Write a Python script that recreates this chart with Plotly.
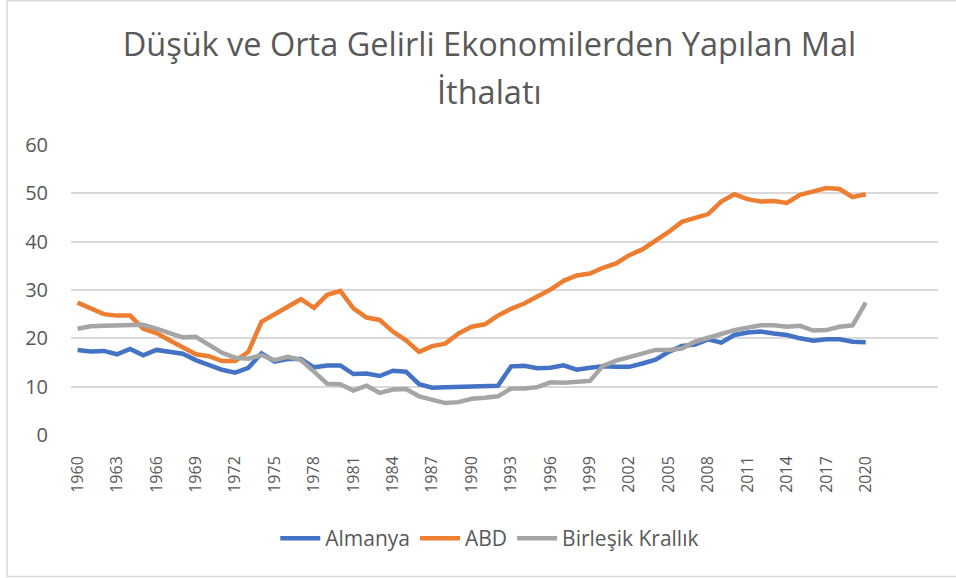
import plotly.graph_objects as go

years = list(range(1960, 2021))

almanya = [17.6, 17.3, 17.4, 16.7, 17.8, 16.5, 17.6, 17.2, 16.8, 15.5,
           14.4, 13.5, 12.9, 13.9, 16.9, 15.2, 15.7, 15.7, 14.0, 14.4,
           14.4, 12.6, 12.7, 12.2, 13.3, 13.1, 10.5, 9.8, 9.9, 10.0,
           10.1, 10.2, 10.2, 14.2, 14.3, 13.8, 13.9, 14.4, 13.5, 13.9,
           14.2, 14.1, 14.1, 14.8, 15.6, 17.2, 18.4, 18.7, 19.8, 19.1,
           20.7, 21.2, 21.4, 21.0, 20.7, 20.0, 19.5, 19.8, 19.8, 19.3,
           19.2]

abd = [27.4, 26.3, 25.0, 24.7, 24.7, 22.0, 21.1, 19.6, 18.1, 16.7,
       16.3, 15.3, 15.3, 17.2, 23.4, 25.0, 26.4, 28.1, 26.3, 29.0,
       29.8, 26.2, 24.3, 23.8, 21.4, 19.6, 17.2, 18.4, 18.9, 21.0,
       22.4, 22.9, 24.7, 26.1, 27.2, 28.6, 30.1, 31.9, 33.0, 33.4,
       34.6, 35.5, 37.2, 38.4, 40.1, 42.0, 44.1, 44.8, 45.7, 48.3,
       49.8, 48.8, 48.3, 48.4, 48.0, 49.7, 50.4, 51.1, 50.9, 49.2,
       49.8]

birlesik = [22.0, 22.5, 22.6, 22.7, 22.7, 22.8, 22.0, 21.2, 20.2, 20.3,
            18.6, 17.0, 16.0, 15.8, 16.5, 15.5, 16.2, 15.5, 13.1, 10.6,
            10.5, 9.2, 10.2, 8.7, 9.4, 9.5, 8.0, 7.2, 6.6, 6.8,
            7.5, 7.7, 8.0, 9.6, 9.6, 9.9, 10.9, 10.8, 11.0, 11.2,
            14.3, 15.4, 16.1, 16.9, 17.6, 17.6, 17.9, 19.3, 20.2, 20.9,
            21.7, 22.1, 22.7, 22.7, 22.4, 22.6, 21.6, 21.7, 22.4, 22.7,
            27.4]

series_names = ["Almanya", "ABD", "Birleşik Krallık"]
series_colors = ["#4472C4", "#ED7D31", "#A5A5A5"]

tick_years = list(range(1960, 2021, 3))
tick_labels = [str(y) for y in tick_years]
y_ticks = [0, 10, 20, 30, 40, 50, 60]

title_line1 = "Düşük ve Orta Gelirli Ekonomilerden Yapılan Mal"
title_line2 = "İthalatı"

FONT = "Open Sans"
TXT = "#595959"

fig = go.Figure()
for name, vals, col in zip(series_names, [almanya, abd, birlesik], series_colors):
    fig.add_trace(go.Scatter(x=years, y=vals, name=name, mode="lines",
                             line=dict(color=col, width=4.5)))

fig.update_layout(
    width=956, height=578,
    margin=dict(l=71, r=18, t=145, b=143),
    paper_bgcolor="white", plot_bgcolor="white",
    font=dict(family=FONT, color=TXT),
    title=dict(text=title_line1, x=0.512, xanchor="center",
               y=1 - 33 / 578, yanchor="top", yref="container",
               font=dict(size=32.5, color=TXT, family=FONT)),
    annotations=[dict(text=title_line2, xref="paper", yref="paper",
                      x=(489.5 - 71) / 867, y=(434.7 - 92) / 289.7,
                      xanchor="center", yanchor="middle", showarrow=False,
                      font=dict(size=32.5, color=TXT, family=FONT))],
    showlegend=True,
    legend=dict(orientation="h", x=0.483, xanchor="center", y=-0.357,
                yanchor="middle", font=dict(size=21, color=TXT),
                bgcolor="rgba(0,0,0,0)", itemwidth=40),
    xaxis=dict(range=[1959.5, 2025.5], tickmode="array", tickvals=tick_years,
               ticktext=tick_labels, tickangle=-90, showgrid=False,
               zeroline=False, showline=False, ticks="",
               tickfont=dict(size=16, color=TXT), ticklabelstandoff=17),
    yaxis=dict(range=[0, 60], tickmode="array", tickvals=y_ticks,
               showgrid=True, gridcolor="#D9D9D9", gridwidth=1.5,
               zeroline=False, showline=False, ticks="",
               tickfont=dict(size=20, color=TXT), ticklabelstandoff=22),
    shapes=[dict(type="rect", xref="paper", yref="paper",
                 x0=(7 - 71) / 867, x1=(958 - 71) / 867,
                 y0=(434.7 - 576) / 289.7, y1=(434.7 - 1) / 289.7,
                 line=dict(color="#D9D9D9", width=1.5), layer="below")],
)

fig.write_html("out.html", config={"displayModeBar": False},
               post_script="document.body.style.margin='0';document.body.style.overflow='hidden';")
